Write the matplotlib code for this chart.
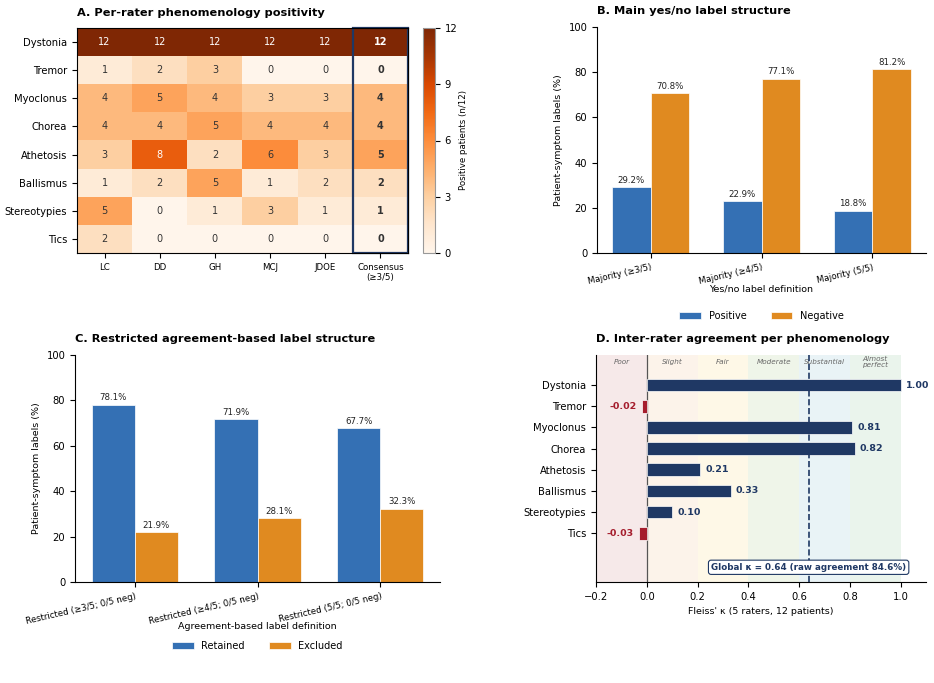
import numpy as np
import matplotlib
matplotlib.use("Agg")
import matplotlib.pyplot as plt
from matplotlib.patches import Rectangle

# ---- data ----
phenos = ['Dystonia', 'Tremor', 'Myoclonus', 'Chorea', 'Athetosis',
          'Ballismus', 'Stereotypies', 'Tics']
raters = ['LC', 'DD', 'GH', 'MCJ', 'JDOE', 'Consensus\n(≥3/5)']
counts = np.array([
    [12, 12, 12, 12, 12, 12],
    [1, 2, 3, 0, 0, 0],
    [4, 5, 4, 3, 3, 4],
    [4, 4, 5, 4, 4, 4],
    [3, 8, 2, 6, 3, 5],
    [1, 2, 5, 1, 2, 2],
    [5, 0, 1, 3, 1, 1],
    [2, 0, 0, 0, 0, 0],
])

main_defs = ['Majority (≥3/5)', 'Majority (≥4/5)', 'Majority (5/5)']
main_pos = [29.2, 22.9, 18.8]
main_neg = [70.8, 77.1, 81.2]

restr_defs = ['Restricted (≥3/5; 0/5 neg)', 'Restricted (≥4/5; 0/5 neg)',
              'Restricted (5/5; 0/5 neg)']
restr_kept = [78.1, 71.9, 67.7]
restr_excl = [21.9, 28.1, 32.3]

kappas = [1.00, -0.02, 0.81, 0.82, 0.21, 0.33, 0.10, -0.03]
global_kappa = 0.64
raw_agree = 84.6

zones = [(-0.2, 0.0, 'Poor', '#f6e9e9'), (0.0, 0.2, 'Slight', '#fcf3ea'),
         (0.2, 0.4, 'Fair', '#fef8e7'), (0.4, 0.6, 'Moderate', '#eff5e9'),
         (0.6, 0.8, 'Substantial', '#e9f3f6'), (0.8, 1.0, 'Almost\nperfect', '#eaf4ec')]

BLUE = '#3470b4'
ORANGE = '#e08a20'
NAVY = '#1f3864'
RED = '#a51d2d'
TXT = '#333333'

TITLE = 8.2
TICK = 7.2
LAB = 6.8
SMALL = 6.2

W, H = 934, 683
fig = plt.figure(figsize=(W / 100, H / 100), dpi=100)


def box(x0, y0, x1, y1):
    return [x0 / W, 1 - y1 / H, (x1 - x0) / W, (y1 - y0) / H]


# ---- A: heatmap ----
axA = fig.add_axes(box(77, 28, 408, 253))
cax = fig.add_axes(box(423, 28, 435, 253))
im = axA.imshow(counts, cmap='Oranges', vmin=0, vmax=12, aspect='auto')
for i in range(counts.shape[0]):
    for j in range(counts.shape[1]):
        v = counts[i, j]
        axA.text(j, i, str(v), ha='center', va='center', fontsize=7,
                 color='white' if v > 7 else TXT,
                 fontweight='bold' if j == len(raters) - 1 else 'normal')
axA.add_patch(Rectangle((len(raters) - 1.5, -0.5), 1, len(phenos), fill=False,
                        edgecolor=NAVY, lw=1.6, clip_on=False))
axA.set_xticks(range(len(raters)))
axA.set_xticklabels(raters, fontsize=SMALL)
axA.set_yticks(range(len(phenos)))
axA.set_yticklabels(phenos, fontsize=TICK)
axA.set_title('A. Per-rater phenomenology positivity', loc='left',
              fontsize=TITLE, fontweight='bold', pad=9)
cb = fig.colorbar(im, cax=cax, ticks=[0, 3, 6, 9, 12])
cb.ax.tick_params(labelsize=TICK)
cb.set_label('Positive patients (n/12)', fontsize=SMALL, labelpad=1)
cb.outline.set_edgecolor('#999999')


def grouped(ax, cats, a, b, la, lb, xlabel, title, xlab_y):
    x = np.arange(len(cats))
    w = 0.35
    ba = ax.bar(x - w / 2, a, w, color=BLUE, edgecolor='white', lw=0.5, label=la)
    bb = ax.bar(x + w / 2, b, w, color=ORANGE, edgecolor='white', lw=0.5, label=lb)
    for bars, vals in ((ba, a), (bb, b)):
        for r, v in zip(bars, vals):
            ax.text(r.get_x() + r.get_width() / 2, v + 1, f'{v:.1f}%',
                    ha='center', va='bottom', fontsize=SMALL, color='#222222')
    ax.set_ylim(0, 100)
    ax.set_xticks(x)
    ax.set_xticklabels(cats, rotation=13, ha='right', fontsize=SMALL,
                       rotation_mode='anchor')
    ax.tick_params(axis='y', labelsize=TICK)
    ax.set_ylabel('Patient-symptom labels (%)', fontsize=LAB)
    ax.set_xlabel(xlabel, fontsize=LAB)
    ax.xaxis.set_label_coords(0.5, xlab_y)
    ax.spines['top'].set_visible(False)
    ax.spines['right'].set_visible(False)
    ax.set_title(title, loc='left', fontsize=TITLE, fontweight='bold', pad=9)
    ax.legend(loc='center', bbox_to_anchor=(0.5, -0.28), ncol=2,
              frameon=False, fontsize=7, handlelength=2.2, columnspacing=2.5)


# ---- B ----
axB = fig.add_axes(box(597, 27, 926, 253))
grouped(axB, main_defs, main_pos, main_neg, 'Positive', 'Negative',
        'Yes/no label definition', 'B. Main yes/no label structure', -0.14)

# ---- C ----
axC = fig.add_axes(box(75, 355, 440, 582))
grouped(axC, restr_defs, restr_kept, restr_excl, 'Retained', 'Excluded',
        'Agreement-based label definition',
        'C. Restricted agreement-based label structure', -0.176)

# ---- D: kappa ----
axD = fig.add_axes(box(596, 355, 926, 582))
for x0, x1, name, col in zones:
    axD.axvspan(x0, x1, color=col, zorder=0, lw=0)
    axD.text((x0 + x1) / 2, -1.09, name, ha='center', va='center', fontsize=5.2,
             style='italic', color='#666666', linespacing=0.95)
y = np.arange(len(phenos))
cols = [NAVY if k >= 0 else RED for k in kappas]
axD.barh(y, kappas, height=0.6, color=cols, edgecolor='white', lw=0.5, zorder=2)
for yi, k, c in zip(y, kappas, cols):
    if k >= 0:
        axD.text(k + 0.02, yi, f'{k:.2f}', ha='left', va='center',
                 fontsize=6.8, fontweight='bold', color=c)
    else:
        axD.text(k - 0.02, yi, f'{k:.2f}', ha='right', va='center',
                 fontsize=6.8, fontweight='bold', color=c)
axD.axvline(0, color='#555555', lw=0.9, zorder=1)
axD.axvline(global_kappa, color=NAVY, lw=1.2, ls='--', zorder=3)
axD.set_xlim(-0.2, 1.1)
axD.set_ylim(len(phenos) + 1.3, -1.42)
axD.set_yticks(y)
axD.set_yticklabels(phenos, fontsize=TICK)
axD.tick_params(axis='x', labelsize=TICK)
axD.set_xlabel("Fleiss' κ (5 raters, 12 patients)", fontsize=LAB)
axD.spines['top'].set_visible(False)
axD.spines['right'].set_visible(False)
axD.text(0.94, 0.045, f'Global κ = {global_kappa:.2f} (raw agreement {raw_agree:.1f}%)',
         transform=axD.transAxes, ha='right', va='bottom', fontsize=6.3,
         fontweight='bold', color=NAVY, zorder=5,
         bbox=dict(boxstyle='round,pad=0.3', fc='white', ec=NAVY, lw=0.8))
axD.set_title('D. Inter-rater agreement per phenomenology', loc='left',
              fontsize=TITLE, fontweight='bold', pad=9)

fig.savefig('out.png', dpi=100)
